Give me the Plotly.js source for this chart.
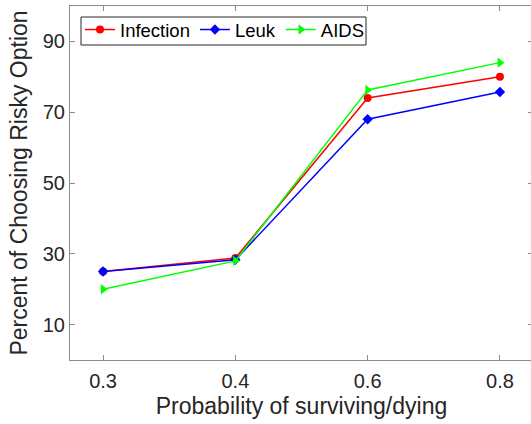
<!DOCTYPE html>
<html>
<head>
<meta charset="utf-8">
<script src="https://cdn.plot.ly/plotly-3.0.1.min.js"></script>
<style>
html, body { margin: 0; padding: 0; overflow: hidden; background: #fff; }
#chart { width: 536px; height: 424px; }
</style>
</head>
<body>
<div id="chart"></div>
<script>
const categories = ['0.3', '0.4', '0.6', '0.8'];
const infection = [25, 28.8, 74, 80];
const leuk = [25, 28.3, 68, 75.7];
const aids = [20, 28, 76.3, 84];
const yTicks = [10, 30, 50, 70, 90];
const seriesNames = ['Infection', 'Leuk', 'AIDS'];

const FONT = 'Liberation Sans, Arial, Helvetica, sans-serif';
const TXT = '#262626';
const AX = '#8c8c8c';

function mk(name, y, color, symbol, size) {
  return {
    type: 'scatter', mode: 'lines+markers', name: name,
    x: categories, y: y,
    line: { color: color, width: 1.5 },
    marker: { color: color, symbol: symbol, size: size, line: { width: 0 } }
  };
}

const data = [
  mk(seriesNames[0], infection, '#ff0000', 'circle', 8),
  mk(seriesNames[1], leuk, '#0000ff', 'diamond', 8),
  mk(seriesNames[2], aids, '#00ff00', 'triangle-right', 9)
];

// plot area: x 70..533 px, y 6..360 px
const L = 70, PW = 463, T = 6, PH = 354;
function px(x) { return (x - L) / PW; }
function py(y) { return 1 - (y - T) / PH; }

const layout = {
  width: 536, height: 424,
  margin: { l: L, r: 3, t: T, b: 424 - T - PH },
  paper_bgcolor: '#fff', plot_bgcolor: '#fff',
  font: { family: FONT, color: TXT, size: 20 },
  showlegend: true,
  legend: {
    orientation: 'h', x: px(80), y: py(11), xanchor: 'left', yanchor: 'top',
    bgcolor: 'rgba(0,0,0,0)', borderwidth: 0,
    font: { family: FONT, size: 18.5, color: '#000' },
    itemwidth: 30, tracegroupgap: 0
  },
  shapes: [{
    type: 'rect', xref: 'paper', yref: 'paper', layer: 'below',
    x0: px(81), x1: px(366), y0: py(45), y1: py(17),
    fillcolor: '#fff', line: { color: TXT, width: 1 }
  }],
  xaxis: {
    type: 'category', range: [-0.25, 3.25],
    showline: true, linecolor: AX, linewidth: 1, mirror: 'ticks',
    ticks: 'inside', ticklen: 5, tickcolor: AX, tickwidth: 1,
    showgrid: false, zeroline: false, ticklabelstandoff: 3,
    tickfont: { family: FONT, size: 20, color: TXT },
    title: { text: 'Probability of surviving/dying', font: { family: FONT, size: 23, color: TXT }, standoff: 6 }
  },
  yaxis: {
    range: [0, 100], tickvals: yTicks,
    showline: true, linecolor: AX, linewidth: 1, mirror: 'ticks',
    ticks: 'inside', ticklen: 5, tickcolor: AX, tickwidth: 1,
    showgrid: false, zeroline: false,
    tickfont: { family: FONT, size: 20, color: TXT },
    title: { text: 'Percent of Choosing Risky Option', font: { family: FONT, size: 23, color: TXT }, standoff: 8 }
  }
};

Plotly.newPlot('chart', data, layout, { displayModeBar: false, staticPlot: true });
</script>
</body>
</html>
